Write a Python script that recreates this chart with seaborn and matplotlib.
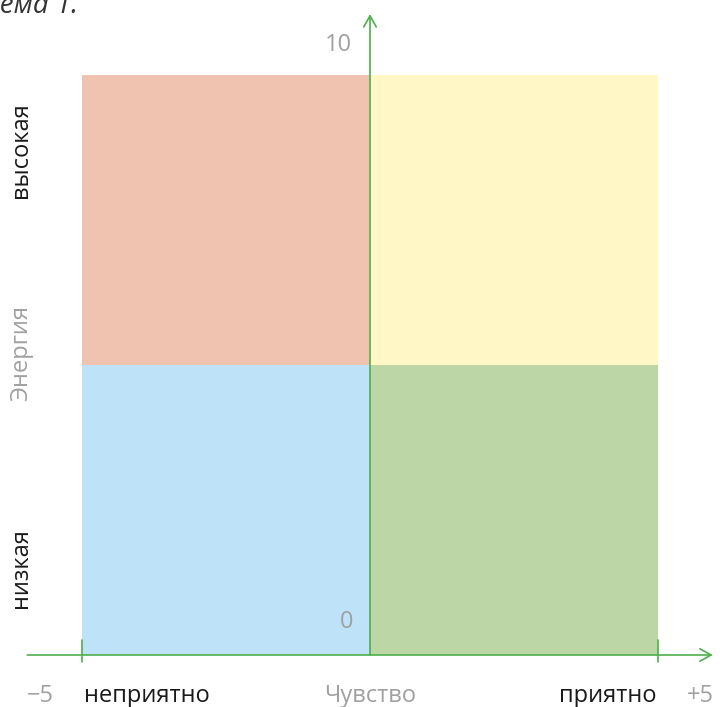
import matplotlib
matplotlib.use("Agg")
import matplotlib.pyplot as plt
import seaborn as sns

# quadrants: left edge, bottom, width, height, colour
quad_left = [-5, 0, -5, 0]
quad_bottom = [5, 5, 0, 0]
quad_width = [5, 5, 5, 5]
quad_height = [5, 5, 5, 5]
quad_colors = ["#F0C2B0", "#FFF8C6", "#BEE3F8", "#BCD6A6"]

x_ticks = [-5, 5]
x_tick_labels = ["\u22125", "+5"]
y_tick_labels = {10: "10", 0: "0"}
x_words = ["неприятно", "Чувство", "приятно"]
y_words = ["высокая", "Энергия", "низкая"]

sns.set_style("white")
plt.rcParams["font.family"] = ["Open Sans", "DejaVu Sans"]

green = "#4DAF4A"
gray = "#A0A0A0"
dark = "#1A1A1A"

fig = plt.figure(figsize=(7.22, 7.07), dpi=100)
ax = fig.add_axes([0, 0, 1, 1])
ax.set_xlim(-370 / 57.6, (722 - 370) / 57.6)
ax.set_ylim(-(707 - 655) / 58, 655 / 58)
ax.axis("off")

ax.bar(quad_left, quad_height, width=quad_width, bottom=quad_bottom,
       align="edge", color=quad_colors, linewidth=0)

# axes with open arrows
ax.annotate("", xy=(5.95, 0), xytext=(-5.95, 0),
            arrowprops=dict(arrowstyle="->,head_length=0.8,head_width=0.45",
                            color=green, lw=1.2, shrinkA=0, shrinkB=0))
ax.annotate("", xy=(0, 11.05), xytext=(0, 0),
            arrowprops=dict(arrowstyle="->,head_length=0.8,head_width=0.45",
                            color=green, lw=1.2, shrinkA=0, shrinkB=0))
for t in x_ticks:
    ax.plot([t, t], [-0.12, 0.26], color=green, lw=1.2)

fs = 17
ax.text(-5.73, -0.7, x_tick_labels[0], color=gray, fontsize=fs, ha="center", va="center")
ax.text(5.73, -0.7, x_tick_labels[1], color=gray, fontsize=fs, ha="center", va="center")
ax.text(-3.87, -0.7, x_words[0], color=dark, fontsize=fs, ha="center", va="center")
ax.text(0, -0.7, x_words[1], color=gray, fontsize=fs, ha="center", va="center")
ax.text(4.12, -0.7, x_words[2], color=dark, fontsize=fs, ha="center", va="center")

ax.text(-0.55, 10.52, y_tick_labels[10], color=gray, fontsize=fs, ha="center", va="center")
ax.text(-0.4, 0.57, y_tick_labels[0], color=gray, fontsize=fs, ha="center", va="center")

ax.text(-6.06, 8.7, y_words[0], color=dark, fontsize=fs, rotation=90, ha="center", va="center")
ax.text(-6.06, 5.2, y_words[1], color=gray, fontsize=fs, rotation=90, ha="center", va="center")
ax.text(-6.06, 1.5, y_words[2], color=dark, fontsize=fs, rotation=90, ha="center", va="center")

fig.text(78 / 722, 1 - 13 / 707, "Схема 1.", color="#333333", fontsize=20,
         style="italic", ha="right", va="baseline")

fig.savefig("out.png", dpi=100)
